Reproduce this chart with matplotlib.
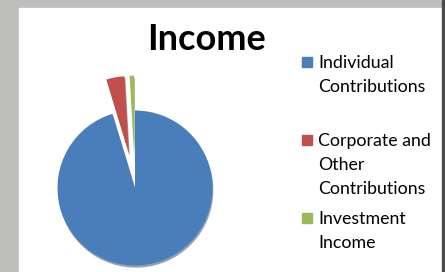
import matplotlib.pyplot as plt
from matplotlib.patches import Rectangle

plt.rcParams['font.family'] = ['Lato', 'DejaVu Sans']

# Income shares (percent)
categories = ["Individual\nContributions", "Corporate and\nOther\nContributions", "Investment\nIncome"]
values = [95.3, 3.8, 0.9]
colors = ['#4a7ebb', '#c0504d', '#9bbb59']
explode = [0, 0.45, 0.45]

W, H = 445, 272
fig = plt.figure(figsize=(W / 100, H / 100), dpi=100, facecolor='#bebfbd')

# white chart panel and dark right edge
fig.patches.append(Rectangle((19 / W, 0), (442 - 19) / W, (H - 8) / H,
                             transform=fig.transFigure, color='white', zorder=-10))
fig.patches.append(Rectangle((442 / W, 0), 3 / W, 1, transform=fig.transFigure,
                             color='#4a4a4a', zorder=-10))

# pie
r = 77.5
cx, cy = 135, H - 188
side = 2.5 * r
ax = fig.add_axes([(cx - side / 2) / W, (cy - side / 2) / H, side / W, side / H])
ax.set_zorder(5)
ax.pie(values, colors=colors, explode=explode, startangle=90, counterclock=False,
       wedgeprops={'linewidth': 0},
       shadow={'ox': 0.008, 'oy': -0.02, 'shade': 0.45})
ax.set_xlim(-1.25, 1.25)
ax.set_ylim(-1.25, 1.25)
ax.set_aspect('equal')
ax.axis('off')

# title
fig.text(207 / W, 1 - 50 / H, "Income", ha='center', va='baseline',
         fontsize=26, fontweight='bold', color='black')

# legend, entries evenly spaced as in the original
for i, (lab, c) in enumerate(zip(categories, colors)):
    y0 = 62 + 78 * i
    fig.patches.append(Rectangle((302 / W, 1 - (y0 + 5) / H), 10 / W, 10 / H,
                                 transform=fig.transFigure, color=c, zorder=2))
    for k, line in enumerate(lab.split('\n')):
        fig.text(318 / W, 1 - (y0 + 6 + 24 * k) / H, line, ha='left', va='baseline',
                 fontsize=12.8, color='black')

fig.savefig('out.png', dpi=100, facecolor=fig.get_facecolor())
